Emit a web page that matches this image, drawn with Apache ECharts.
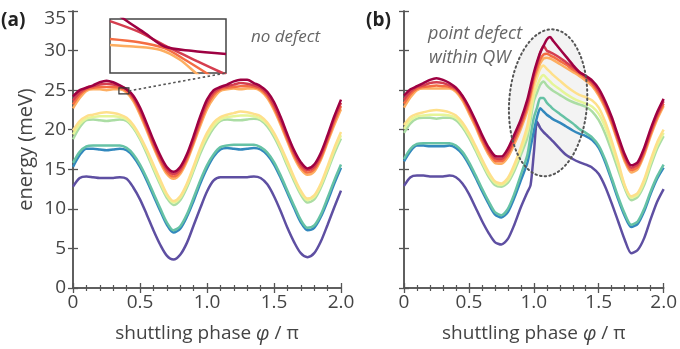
<!DOCTYPE html>
<html>
<head>
<meta charset="utf-8">
<script src="https://cdn.jsdelivr.net/npm/echarts@6.0.0/dist/echarts.min.js"></script>
<style>
  html, body { margin: 0; padding: 0; background: #fff; }
  #chart { width: 680px; height: 349px; }
</style>
</head>
<body>
<div id="chart"></div>
<script>
// phase grid (units of pi)
const phaseA = [0, 0.05, 0.1, 0.15, 0.2, 0.25, 0.3, 0.35, 0.4, 0.45, 0.5, 0.55, 0.6, 0.65, 0.7, 0.75, 0.8, 0.85, 0.9, 0.95,
  1.0, 1.05, 1.1, 1.15, 1.2, 1.25, 1.3, 1.35, 1.4, 1.45, 1.5, 1.55, 1.6, 1.65, 1.7, 1.75, 1.8, 1.85, 1.9, 1.95, 2.0];
const phaseB = [0, 0.05, 0.1, 0.15, 0.2, 0.25, 0.3, 0.35, 0.4, 0.45, 0.5, 0.55, 0.6, 0.65, 0.7, 0.75, 0.8, 0.85, 0.9, 0.95,
  0.975, 1.0, 1.025, 1.05, 1.075, 1.1, 1.125, 1.15, 1.2, 1.25, 1.3, 1.35, 1.4, 1.45, 1.5, 1.55, 1.6, 1.65, 1.7, 1.75,
  1.8, 1.85, 1.9, 1.95, 2.0];

const colors = ['#5e4fa2', '#3288bd', '#66c2a5', '#abdda4', '#e6f598', '#fee08b', '#fdae61', '#f46d43', '#d53e4f', '#9e0142'];

// (a) no defect, energies in meV
const aPurple = [12.8,13.9,14.1,14.0,13.9,13.9,13.9,14.0,13.8,12.7,11.2,9.3,7.3,5.5,4.1,3.6,4.2,5.7,7.9,10.1,12.2,13.6,14.0,14.0,14.0,14.0,14.0,14.1,13.9,13.1,11.6,9.7,7.6,5.8,4.4,3.9,4.4,5.9,8.0,10.2,12.3];
const aBlue = [15.3,16.8,17.6,17.6,17.5,17.4,17.5,17.6,17.4,16.6,15.3,13.6,11.7,9.8,8.0,7.0,7.5,9.0,11.0,13.2,15.1,16.6,17.5,17.7,17.6,17.5,17.6,17.7,17.5,16.8,15.6,13.9,12.0,10.1,8.3,7.3,7.6,9.0,11.0,13.2,15.2];
const aTeal = [15.8,17.2,17.9,18.0,18.0,18.0,18.0,18.0,17.7,16.9,15.6,13.9,12.0,10.1,8.3,7.3,7.8,9.3,11.4,13.6,15.5,16.9,17.8,18.0,18.1,18.1,18.1,18.1,17.8,17.1,15.9,14.2,12.3,10.4,8.6,7.6,7.9,9.3,11.4,13.6,15.6];
const aGreen = [18.8,20.3,21.2,21.3,21.2,21.1,21.2,21.3,21.1,20.2,18.8,17.0,15.0,13.1,11.4,10.5,11.1,12.7,14.8,17.0,18.8,20.2,21.1,21.3,21.2,21.2,21.3,21.4,21.2,20.4,19.1,17.4,15.4,13.5,11.8,10.8,11.2,12.7,14.8,17.0,18.9];
const aPale = [19.4,20.7,21.4,21.6,21.7,21.7,21.7,21.6,21.3,20.4,19.0,17.3,15.3,13.4,11.7,10.8,11.4,13.0,15.1,17.4,19.2,20.5,21.3,21.6,21.7,21.8,21.8,21.7,21.4,20.7,19.4,17.7,15.7,13.8,12.1,11.1,11.5,13.0,15.1,17.4,19.3];
const aYellow = [19.9,21.1,21.7,21.9,22.1,22.2,22.1,21.9,21.5,20.6,19.2,17.5,15.6,13.7,11.9,11.0,11.6,13.2,15.4,17.7,19.6,20.9,21.6,21.9,22.1,22.3,22.2,22.0,21.7,20.9,19.6,17.9,16.0,14.0,12.3,11.3,11.7,13.2,15.4,17.7,19.7];
const aOrange = [22.7,24.0,24.9,25.1,25.1,25.0,25.1,25.1,24.7,23.6,21.9,19.9,17.8,15.9,14.4,13.8,14.4,16.0,18.2,20.5,22.6,24.0,24.9,25.1,25.2,25.1,25.2,25.2,24.9,24.0,22.5,20.6,18.5,16.5,15.0,14.3,14.7,16.2,18.4,20.6,22.6];
const aOrRed = [23.2,24.4,25.1,25.3,25.4,25.4,25.4,25.3,24.9,23.9,22.2,20.2,18.1,16.2,14.7,14.1,14.7,16.3,18.5,20.9,23.0,24.4,25.1,25.3,25.4,25.5,25.5,25.4,25.1,24.3,22.8,20.9,18.8,16.8,15.3,14.6,15.0,16.5,18.7,21.0,23.0];
const aRed = [23.7,24.7,25.3,25.5,25.7,25.8,25.7,25.5,25.1,24.1,22.5,20.5,18.4,16.5,15.0,14.4,15.0,16.6,18.8,21.3,23.4,24.7,25.3,25.5,25.7,25.9,25.8,25.6,25.3,24.5,23.1,21.2,19.1,17.1,15.6,14.9,15.3,16.8,19.0,21.4,23.4];
const aDark = [24.2,25.0,25.3,25.6,26.0,26.2,26.0,25.6,25.1,24.3,22.8,20.8,18.7,16.8,15.3,14.7,15.3,16.9,19.2,21.7,23.8,25.0,25.4,25.7,26.1,26.3,26.3,25.9,25.5,24.8,23.5,21.6,19.4,17.4,15.9,15.1,15.6,17.1,19.3,21.7,23.8];

// (b) point defect within QW
const bPurple = [12.9,14.0,14.2,14.2,14.1,14.1,14.1,14.2,14.0,13.2,11.9,10.2,8.5,7.0,5.8,5.5,6.2,8.0,10.2,12.1,13.0,17.0,21.0,20.2,19.7,19.3,18.9,18.5,17.6,16.8,16.3,15.9,15.6,15.2,14.4,12.8,10.7,8.4,6.1,4.4,4.8,6.3,8.7,10.9,12.5];
const bBlue = [16.0,17.3,18.0,18.0,17.9,17.9,17.9,18.0,17.7,16.9,15.6,14.0,12.3,10.7,9.3,8.9,9.6,11.4,13.6,15.8,17.8,19.8,21.6,22.7,22.3,21.9,21.6,21.3,20.9,20.4,19.9,19.5,19.2,18.7,17.7,15.9,13.6,11.2,9.1,7.7,8.1,9.7,11.9,13.8,15.2];
const bTeal = [16.3,17.6,18.2,18.3,18.3,18.3,18.3,18.3,18.0,17.2,15.9,14.3,12.6,11.0,9.6,9.2,10.0,11.9,14.3,16.8,19.2,21.5,22.8,24.0,24.0,23.4,23.0,22.6,22.0,21.4,20.8,20.1,19.6,19.0,18.0,16.2,13.9,11.5,9.4,8.0,8.4,10.0,12.2,14.1,15.6];
const bGreen = [19.6,20.8,21.4,21.5,21.5,21.4,21.5,21.5,21.2,20.3,19.0,17.4,15.7,14.1,13.0,12.8,13.3,14.8,16.8,19.0,21.3,23.6,24.7,25.7,26.1,25.6,25.2,24.9,24.4,23.9,23.5,23.2,22.9,22.3,21.2,19.5,17.3,14.9,12.6,11.1,11.5,13.0,15.4,17.6,19.2];
const bPale = [20.1,21.2,21.7,21.8,21.9,21.9,21.9,21.8,21.5,20.6,19.3,17.7,16.0,14.4,13.3,13.0,13.6,15.2,17.3,19.8,22.0,24.3,25.5,26.5,26.9,26.5,26.1,25.7,25.1,24.5,24.0,23.6,23.3,22.9,22.0,20.3,18.0,15.5,12.9,11.4,11.8,13.4,15.8,18.0,19.6];
const bYellow = [20.6,21.6,22.0,22.2,22.4,22.5,22.4,22.2,21.8,20.9,19.6,18.0,16.3,14.7,13.5,13.2,13.9,15.6,17.8,20.5,22.8,25.2,26.6,27.7,28.1,27.7,27.3,26.9,26.2,25.5,24.9,24.4,24.1,23.7,22.8,21.0,18.6,15.9,13.0,11.6,12.0,13.7,16.2,18.4,20.0];
const bOrange = [22.8,24.1,25.0,25.2,25.2,25.2,25.2,25.2,24.8,23.7,22.1,20.4,18.5,16.9,15.8,15.7,16.5,18.2,20.1,22.4,24.1,26.0,27.3,28.4,29.0,29.1,29.0,28.8,28.3,27.8,27.3,26.8,26.2,25.5,24.3,22.7,20.7,18.3,16.0,14.6,15.0,16.8,19.2,21.3,23.0];
const bOrRed = [23.3,24.5,25.2,25.4,25.5,25.6,25.5,25.4,25.0,24.0,22.4,20.7,18.8,17.2,16.1,16.0,16.9,18.6,20.5,22.9,24.6,26.5,27.8,28.9,29.5,29.6,29.4,29.2,28.7,28.2,27.6,27.1,26.5,25.8,24.6,23.0,21.0,18.6,16.3,14.9,15.3,17.1,19.5,21.6,23.3];
const bRed = [23.8,24.8,25.4,25.6,25.9,26.0,25.9,25.6,25.2,24.2,22.7,21.0,19.1,17.5,16.4,16.3,17.2,19.0,20.9,23.3,25.0,26.9,28.3,29.7,30.6,30.0,29.8,29.6,29.1,28.5,27.9,27.3,26.7,26.0,24.9,23.3,21.3,18.9,16.6,15.2,15.6,17.4,19.8,21.9,23.6];
const bDark = [24.3,25.1,25.5,25.9,26.3,26.5,26.3,25.9,25.3,24.3,22.9,21.2,19.4,17.8,16.7,16.6,17.6,19.4,21.3,23.8,25.5,27.2,28.6,29.8,30.6,31.4,31.7,31.2,30.2,29.2,28.2,27.3,26.8,26.2,25.2,23.6,21.6,19.2,16.9,15.5,15.9,17.7,20.1,22.2,23.9];

// inset: magnified crossing, normalised box coordinates [x, y]
const insetDark = [[0.05, 1.12], [0.12, 1.0], [0.3, 0.74], [0.47, 0.49], [0.7, 0.41], [1.0, 0.35]];
const insetRed = [[0, 0.96], [0.25, 0.76], [0.47, 0.51], [0.75, 0.22], [0.97, 0], [1.0, -0.03]];
const insetOrRed = [[0, 0.63], [0.25, 0.57], [0.47, 0.46], [0.65, 0.24], [0.83, 0], [0.9, -0.1]];
const insetOrange = [[0, 0.52], [0.2, 0.49], [0.43, 0.43], [0.6, 0.25], [0.74, 0], [0.8, -0.1]];

const seriesA = [aPurple, aBlue, aTeal, aGreen, aPale, aYellow, aOrange, aOrRed, aRed, aDark];
const seriesB = [bPurple, bBlue, bTeal, bGreen, bPale, bYellow, bOrange, bOrRed, bRed, bDark];
const insetLines = [insetOrange, insetOrRed, insetRed, insetDark];
const insetColors = ['#fdae61', '#f46d43', '#d53e4f', '#9e0142'];

const FONT = 'Open Sans';
const axisColor = '#555';
const textColor = '#444';

function xAx(grid, bottom) {
  return {
    type: 'value', gridIndex: grid, min: 0, max: 2, interval: 0.5,
    position: bottom ? 'bottom' : 'top',
    axisLine: { lineStyle: { color: axisColor, width: 1.5 } },
    axisTick: { inside: true, length: 5, lineStyle: { color: axisColor, width: 1.3 } },
    minorTick: { show: true, splitNumber: 5, length: 3, lineStyle: { color: axisColor, width: 1.2 } },
    splitLine: { show: false },
    axisLabel: {
      show: bottom, fontSize: 19, color: textColor, fontFamily: FONT, margin: 5,
      formatter: v => v === 0 ? '0' : v.toFixed(1)
    },
    name: bottom ? '{t|shuttling phase }{i|φ}{t| / π}' : '',
    nameLocation: 'middle', nameGap: 36,
    nameTextStyle: {
      rich: {
        t: { fontSize: 19, color: textColor, fontFamily: FONT },
        i: { fontSize: 20, color: textColor, fontFamily: FONT, fontStyle: 'italic' }
      }
    }
  };
}

function yAx(grid, left, labels) {
  return {
    type: 'value', gridIndex: grid, min: 0, max: 35, interval: 5,
    position: left ? 'left' : 'right',
    axisLine: { show: true, lineStyle: { color: axisColor, width: 1.5 } },
    axisTick: { show: true, inside: true, length: 5, lineStyle: { color: axisColor, width: 1.3 } },
    splitLine: { show: false },
    axisLabel: {
      show: labels, fontSize: 19, color: textColor, fontFamily: FONT, margin: 7,
      formatter: v => v === 35 ? '{s|35}' : String(v),
      rich: { s: { fontSize: 19, color: textColor, fontFamily: FONT, padding: [16, 0, 0, 0] } }
    },
    name: labels ? 'energy (meV)' : '',
    nameLocation: 'middle', nameGap: 37,
    nameTextStyle: { fontSize: 20, color: textColor, fontFamily: FONT }
  };
}

const series = [];
seriesA.forEach((vals, i) => series.push({
  type: 'line', xAxisIndex: 0, yAxisIndex: 0, showSymbol: false, smooth: 0.3,
  data: phaseA.map((p, k) => [p, vals[k]]),
  lineStyle: { color: colors[i], width: 2.5 }, z: 2 + i * 0.01
}));
seriesB.forEach((vals, i) => series.push({
  type: 'line', xAxisIndex: 2, yAxisIndex: 2, showSymbol: false, smooth: 0.25,
  data: phaseB.map((p, k) => [p, vals[k]]),
  lineStyle: { color: colors[i], width: 2.5 }, z: 2 + i * 0.01
}));
insetLines.forEach((pts, i) => series.push({
  type: 'line', xAxisIndex: 4, yAxisIndex: 4, showSymbol: false, smooth: 0.3, clip: true,
  data: pts, lineStyle: { color: insetColors[i], width: 2.5 }, z: 5
}));

const option = {
  animation: false,
  backgroundColor: '#fff',
  grid: [
    { left: 73, top: 11, width: 268, height: 279 },
    { left: 404, top: 11, width: 268, height: 279 },
    { left: 110, top: 19, width: 116, height: 54, show: true, borderColor: '#444', borderWidth: 1.5, backgroundColor: '#fff', z: 4 }
  ],
  xAxis: [
    xAx(0, true), xAx(0, false), xAx(1, true), xAx(1, false),
    { type: 'value', gridIndex: 2, min: 0, max: 1, show: false }
  ],
  yAxis: [
    yAx(0, true, true), yAx(0, false, false), yAx(1, true, false), yAx(1, false, false),
    { type: 'value', gridIndex: 2, min: 0, max: 1, show: false }
  ],
  series: series
};

const chart = echarts.init(document.getElementById('chart'), null, { renderer: 'canvas' });
chart.setOption(option);

// annotation geometry from data coordinates
const ec = chart.convertToPixel({ gridIndex: 1 }, [1.11, 23.4]);
const ee = chart.convertToPixel({ gridIndex: 1 }, [1.41, 32.7]);
const rx = ee[0] - ec[0], ry = ec[1] - ee[1];
const sq = chart.convertToPixel({ gridIndex: 0 }, [0.38, 24.9]);
const corner = chart.convertToPixel({ gridIndex: 2 }, [1, 0]);

const txt = (x, y, s, extra) => ({
  type: 'text', x: x, y: y, z: 20,
  style: Object.assign({ text: s, fontFamily: FONT, fontSize: 16, fill: '#333', verticalAlign: 'middle' }, extra || {})
});

chart.setOption({
  graphic: [
    { type: 'ellipse', x: ec[0], y: ec[1], rotation: -0.07, z: 1,
      shape: { cx: 0, cy: 0, rx: rx, ry: ry },
      style: { fill: 'rgba(200,200,200,0.22)', stroke: null } },
    { type: 'ellipse', x: ec[0], y: ec[1], rotation: -0.07, z: 12,
      shape: { cx: 0, cy: 0, rx: rx, ry: ry },
      style: { fill: null, stroke: '#555', lineWidth: 2, lineDash: [1.5, 3.2], lineCap: 'round' } },
    { type: 'rect', z: 12, shape: { x: sq[0] - 5, y: sq[1] - 3, width: 10, height: 6 },
      style: { fill: null, stroke: '#333', lineWidth: 1.2 } },
    { type: 'line', z: 12, shape: { x1: sq[0] + 5, y1: sq[1], x2: corner[0], y2: corner[1] },
      style: { stroke: '#555', lineWidth: 1.6, lineDash: [2.5, 2.5] } },
    txt(1, 21, '(a)', { fontWeight: 'bold', fontSize: 19, fill: '#222' }),
    txt(366, 21, '(b)', { fontWeight: 'bold', fontSize: 19, fill: '#222' }),
    txt(251, 37, 'no defect', { fontStyle: 'italic', fill: '#666', fontSize: 17 }),
    txt(428, 34, 'point defect', { fontStyle: 'italic', fill: '#666', fontSize: 18 }),
    txt(429, 58, 'within QW', { fontStyle: 'italic', fill: '#666', fontSize: 18 })
  ]
});
</script>
</body>
</html>
